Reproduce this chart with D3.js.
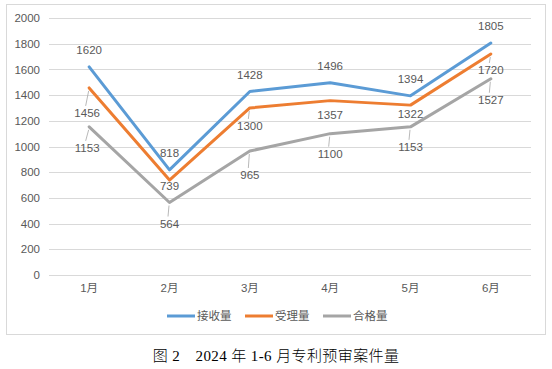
<!DOCTYPE html>
<html><head><meta charset="utf-8">
<script src="https://cdn.jsdelivr.net/npm/d3@7"></script>
<style>
html,body{margin:0;padding:0;background:#fff;}
svg{display:block;}
</style></head>
<body>
<svg id="chart" width="552" height="369"></svg>
<script>
const months = ["1月","2月","3月","4月","5月","6月"];
const received = [1620, 818, 1428, 1496, 1394, 1805];
const accepted = [1456, 739, 1300, 1357, 1322, 1720];
const qualified = [1153, 564, 965, 1100, 1153, 1527];
const yTicks = [0,200,400,600,800,1000,1200,1400,1600,1800,2000];
const seriesNames = ["接收量","受理量","合格量"];
const caption = "图 2　2024 年 1-6 月专利预审案件量";

const colors = ["#5B9BD5","#ED7D31","#A5A5A5"];
// label placement (layout, not data): vertical offset of label centre from the point
const labelDy = [
  [-17,-17,-17,-17,-17,-17],
  [25,6,18,14,9,16],
  [21,21,24,20,20,21]
];

const svg = d3.select("#chart");
const font = "'Liberation Sans','Noto Sans CJK SC',sans-serif";
const textCol = "#595959";

// outer frame
svg.append("rect").attr("x",6.5).attr("y",4.5).attr("width",539).attr("height",330)
  .attr("fill","#fff").attr("stroke","#D9D9D9").attr("stroke-width",1);

const x = d3.scaleBand().domain(months).range([49,531]);
const y = d3.scaleLinear().domain([0,2000]).range([275,18]);

// gridlines
svg.append("g").selectAll("line").data(yTicks).join("line")
  .attr("x1",49).attr("x2",531)
  .attr("y1",d=>Math.round(y(d))+0.5).attr("y2",d=>Math.round(y(d))+0.5)
  .attr("stroke","#D9D9D9").attr("stroke-width",1);

// y axis
const yAxis = svg.append("g").attr("transform","translate(44,0)")
  .call(d3.axisLeft(y).tickValues(yTicks).tickFormat(d3.format("d")).tickSize(0).tickPadding(4));
yAxis.select(".domain").remove();
yAxis.selectAll("text").attr("font-family",font).attr("font-size","11.5px").attr("fill",textCol);

// x axis
const xAxis = svg.append("g").attr("transform","translate(0,282)")
  .call(d3.axisBottom(x).tickSize(0).tickPadding(2));
xAxis.select(".domain").remove();
xAxis.selectAll("text").attr("font-family",font).attr("font-size","11.5px").attr("fill",textCol);

const data = [received, accepted, qualified];
const cx = (i)=> x(months[i]) + x.bandwidth()/2;

const line = d3.line().x((d,i)=>cx(i)).y(d=>y(d));

// draw grey first, then orange, then blue on top
[2,1,0].forEach(s=>{
  svg.append("path").datum(data[s]).attr("d",line)
    .attr("fill","none").attr("stroke",colors[s]).attr("stroke-width",3)
    .attr("stroke-linejoin","round").attr("stroke-linecap","round");
});

// leader lines and labels
data.forEach((vals,s)=>{
  vals.forEach((v,i)=>{
    const px = cx(i), py = y(v);
    const dy = labelDy[s][i];
    const lx = px - (dy>0 && dy>=20 && i===0 ? 2 : 0);
    const ly = py + dy;
    if (dy >= 15) {
      svg.append("line").attr("x1",px-0.5).attr("y1",py+3)
        .attr("x2",lx-1.5).attr("y2",ly-7)
        .attr("stroke","#A6A6A6").attr("stroke-width",0.8);
    }
    svg.append("text").attr("x",lx).attr("y",ly)
      .attr("text-anchor","middle").attr("dominant-baseline","central")
      .attr("font-family",font).attr("font-size","11.5px").attr("fill",textCol)
      .text(v);
  });
});

// legend
const legendX = [167,245,323];
seriesNames.forEach((n,s)=>{
  const g = svg.append("g");
  g.append("line").attr("x1",legendX[s]).attr("x2",legendX[s]+28)
    .attr("y1",316).attr("y2",316).attr("stroke",colors[s]).attr("stroke-width",3);
  g.append("text").attr("x",legendX[s]+30).attr("y",316)
    .attr("dominant-baseline","central")
    .attr("font-family",font).attr("font-size","11.5px").attr("fill",textCol).text(n);
});

// caption
svg.append("text").attr("x",276).attr("y",356).attr("text-anchor","middle")
  .attr("dominant-baseline","central")
  .attr("font-family","'Liberation Serif','Noto Sans CJK SC',serif")
  .attr("font-size","15px").attr("font-weight",300).attr("letter-spacing","0.4px")
  .attr("fill","#000").text(caption);
</script>
</body></html>
